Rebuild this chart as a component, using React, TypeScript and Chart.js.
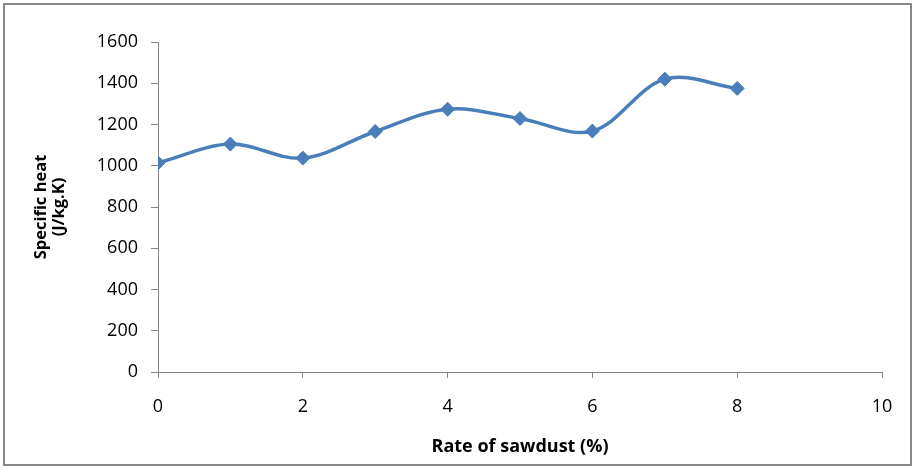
import React, { useEffect, useRef } from "react";
import { Chart, registerables } from "chart.js";

Chart.register(...registerables);

const rates = [0, 1, 2, 3, 4, 5, 6, 7, 8];
const specificHeat = [1014, 1105, 1037, 1166, 1274, 1229, 1168, 1420, 1375];
const xTickValues = [0, 2, 4, 6, 8, 10];
const yTickValues = [0, 200, 400, 600, 800, 1000, 1200, 1400, 1600];
const xTitle = "Rate of sawdust (%)";
const yTitle = ["Specific heat", "(J/kg.K)"];

const W = 914;
const H = 469;
const AXIS = "#868686";
const LINE = "#4A7EBB";

const framePlugin = {
  id: "frame",
  beforeDraw(chart: any) {
    const ctx = chart.ctx;
    ctx.save();
    ctx.fillStyle = "#ffffff";
    ctx.fillRect(0, 0, chart.width, chart.height);
    ctx.restore();
  },
  afterDraw(chart: any) {
    const ctx = chart.ctx;
    ctx.save();
    ctx.strokeStyle = "#878787";
    ctx.lineWidth = 2;
    ctx.strokeRect(4, 4, 907, 461);
    ctx.restore();
  },
};

export default function App() {
  const ref = useRef<HTMLCanvasElement | null>(null);

  useEffect(() => {
    if (!ref.current) return;
    const chart = new Chart(ref.current, {
      type: "line",
      data: {
        datasets: [
          {
            data: rates.map((x, i) => ({ x, y: specificHeat[i] })),
            borderColor: LINE,
            backgroundColor: LINE,
            borderWidth: 3.5,
            tension: 0.35,
            pointStyle: "rectRot",
            pointRadius: 7,
            pointBorderWidth: 1,
            pointBackgroundColor: LINE,
            pointBorderColor: LINE,
            fill: false,
          },
        ],
      },
      options: {
        responsive: false,
        animation: false,
        events: [],
        layout: { padding: { left: 4, top: 42, right: 32, bottom: 0 } },
        plugins: {
          legend: { display: false },
          tooltip: { enabled: false },
        },
        scales: {
          x: {
            type: "linear",
            min: xTickValues[0],
            max: xTickValues[xTickValues.length - 1],
            afterBuildTicks: (scale: any) => {
              scale.ticks = xTickValues.map((v) => ({ value: v }));
            },
            afterFit: (scale: any) => {
              scale.height = 97;
            },
            ticks: {
              padding: 18,
              color: "#000000",
              font: { family: "'Open Sans'", size: 18 },
              maxRotation: 0,
              callback: (v: any) => String(v),
            },
            grid: {
              drawOnChartArea: false,
              drawTicks: true,
              tickLength: 6,
              color: AXIS,
              lineWidth: 1,
            },
            border: { display: true, color: AXIS, width: 1 },
            title: {
              display: true,
              text: xTitle,
              color: "#000000",
              font: { family: "'Open Sans'", size: 18, weight: "bold", lineHeight: 1.2 },
              padding: { top: 0, bottom: 11 },
            },
          },
          y: {
            type: "linear",
            min: yTickValues[0],
            max: yTickValues[yTickValues.length - 1],
            afterBuildTicks: (scale: any) => {
              scale.ticks = yTickValues.map((v) => ({ value: v }));
            },
            afterFit: (scale: any) => {
              scale.width = 154;
            },
            ticks: {
              padding: 13,
              color: "#000000",
              font: { family: "'Open Sans'", size: 18 },
              callback: (v: any) => String(v),
            },
            grid: {
              drawOnChartArea: false,
              drawTicks: true,
              tickLength: 7,
              color: AXIS,
              lineWidth: 1,
            },
            border: { display: true, color: AXIS, width: 1 },
            title: {
              display: true,
              text: yTitle,
              color: "#000000",
              font: { family: "'Open Sans'", size: 16.5, weight: "bold", lineHeight: 1.1 },
              padding: { top: 28, bottom: 0 },
            },
          },
        },
      },
      plugins: [framePlugin],
    });
    return () => chart.destroy();
  }, []);

  return (
    <div style={{ position: "fixed", left: 0, top: 0, width: W, height: H }}>
      <canvas ref={ref} width={W} height={H} style={{ display: "block" }} />
    </div>
  );
}
